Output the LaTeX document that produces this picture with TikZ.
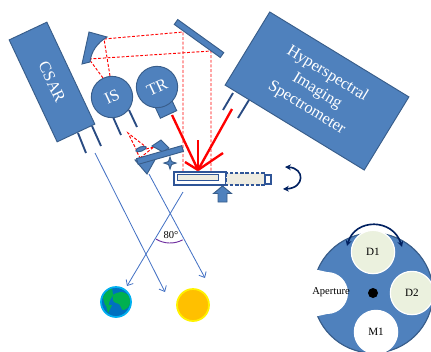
\documentclass[tikz,border=0pt]{standalone}
\usepackage{fontspec}
\setmainfont{Liberation Serif}
\usetikzlibrary{arrows.meta,shapes.geometric}

\definecolor{bluBox}{RGB}{79,129,189}
\definecolor{bluBordo}{RGB}{56,93,138}
\definecolor{bluGamba}{RGB}{41,75,130}
\definecolor{bluCampione}{RGB}{47,85,151}
\definecolor{bluRaggio}{RGB}{68,114,196}
\definecolor{bluScuro}{RGB}{0,32,96}
\definecolor{beige}{RGB}{238,236,225}
\definecolor{verdino}{RGB}{235,241,222}
\definecolor{viola}{RGB}{112,48,160}
\definecolor{oceano}{RGB}{0,112,192}
\definecolor{cielo}{RGB}{0,176,240}
\definecolor{terraVerde}{RGB}{0,176,80}
\definecolor{sole}{RGB}{255,192,0}

\begin{document}
\begin{tikzpicture}[x=0.03cm,y=-0.03cm]
\tikzstyle{blocco} = [draw=bluBordo, fill=bluBox, line width=0.8pt, inner sep=0, text=white, font=\fontsize{14}{17}\selectfont]
\tikzstyle{sonda} = [blocco, circle, minimum size=1.24cm, rotate=25]
\tikzstyle{specchio} = [blocco, rectangle, minimum height=0.18cm]
\tikzstyle{ottica} = [draw=bluBordo, fill=bluBox, line width=0.8pt]
\tikzstyle{gamba} = [bluGamba, line width=1.6pt]
\tikzstyle{fascio} = [red, line width=0.8pt, dash pattern=on 2.5pt off 1.5pt]
\tikzstyle{luce} = [red, line width=2pt]
\tikzstyle{raggio} = [bluRaggio, line width=0.7pt, -{Straight Barb[length=4pt,width=7pt]}]
\tikzstyle{rotazione} = [bluScuro, line width=1.4pt, {Stealth[length=5pt,width=5pt]}-{Stealth[length=5pt,width=5pt]}]
\tikzstyle{campione} = [draw=bluCampione, line width=1.1pt]
\tikzstyle{foro} = [circle, draw=white, line width=1pt, minimum size=1.3cm, inner sep=0, font=\fontsize{9.5}{11}\selectfont]

\clip (0,0) rectangle (431,351);

% Raggi verso terra e sole
\coordinate (csarRaggio) at (95,153);
\coordinate (fineCsar) at (165,292);
\coordinate (ottRaggio) at (149,174);
\coordinate (fineSole) at (205,278);
\coordinate (campRaggio) at (183,192);
\coordinate (fineTerra) at (127,286);
\draw[raggio] (csarRaggio) -- (fineCsar);
\draw[raggio] (ottRaggio) -- (fineSole);
\draw[raggio] (campRaggio) -- (fineTerra);

% angolo tra i raggi
\draw[viola, line width=0.8pt] (170,216) ++(121:27) arc[start angle=121, end angle=62, radius=27];
\node[font=\fontsize{9}{10}\selectfont] (angolo) at (171,235) {80°};

% Gambe degli strumenti
\foreach \xa/\ya/\xb/\yb in {78/133/86/153, 92/126/101/146, 113/117/121/135,
                            129/110/137/127, 233/93/223/110, 249/100/238/118}
  \draw[gamba] (\xa,\ya) -- (\xb,\yb);

% Percorso ottico (tratteggiato)
\coordinate (cs1) at (104,39);
\coordinate (cs2) at (89,59);
\coordinate (sp1) at (183,32);
\coordinate (sp2) at (211,51);
\coordinate (cp1) at (183,172);
\coordinate (cp2) at (211,172);
\draw[fascio] (110,76) -- (cs1) -- (sp1) -- (cp1);
\draw[fascio] (103,78) -- (cs2) -- (sp2) -- (cp2);

% Specchi
\draw[ottica] (89,32) -- (107,37) .. controls (97,43) and (91,52) .. (90,62) -- (82,64) -- cycle;
\node[specchio, minimum width=1.7cm, rotate=-35.7] (piano) at (199,38.5) {};

% Strumenti
\node[blocco, rectangle, minimum width=3.38cm, minimum height=1.25cm, rotate=-64.8] (csar) at (52,82) {CSAR};
\node[blocco, rectangle, minimum width=4.89cm, minimum height=2.57cm, rotate=-31.4, align=center] (his) at (317,91) {Hyperspectral\\Imaging\\Spectrometer};
\node[blocco, rectangle, minimum width=0.54cm, minimum height=0.36cm, rotate=25] (trtab) at (166,109) {};
\node[sonda] (is) at (112,97) {IS};
\node[sonda] (tr) at (157,87) {TR};

% Illuminazione (rosso pieno)
\coordinate (fuoco) at (198,170);
\foreach \x/\y in {172/115, 232/109, 198/140, 185/162, 223/153}
  \draw[luce] (\x,\y) -- (fuoco);

% Gruppo ottico piccolo
\draw[fascio] (137,151) -- (128,133) -- (146,147);
\draw[fascio] (137,152) -- (140,158) -- (168,152);
\draw[fascio] (146,149) -- (154,147);
\draw[fascio] (140,158) -- (155,146);
\draw[fascio] (153,156) -- (165,149);
\node[blocco, ellipse, minimum width=0.33cm, minimum height=0.13cm, rotate=20] (lente) at (141,149) {};
\draw[ottica] (152,146) -- (161,140) -- (169,148) -- (163,152) -- cycle;
\draw[ottica] (135,160) -- (156,158) -- (147,174) -- cycle;
\node[specchio, minimum width=1.41cm, rotate=16] (barra) at (160,155) {};
\draw[ottica] (170,157) -- (171.5,161.5) -- (176,163) -- (171.5,164.5) -- (170,169)
  -- (168.5,164.5) -- (164,163) -- (168.5,161.5) -- cycle;

% Portacampione
\draw[campione, fill=white] (174,172) rectangle (226,185);
\draw[campione, fill=beige, line width=0.8pt] (177,174) rectangle (218,180);
\draw[campione, fill=beige, dash pattern=on 3pt off 1.5pt] (226,173) rectangle (265,185);
\draw[campione, fill=white] (265,175) rectangle (271,184);
\draw[ottica] (222.5,186) -- (231.5,193.5) -- (227,193.5) -- (227,202) -- (218,202)
  -- (218,193.5) -- (213.5,193.5) -- cycle;
\draw[rotazione] (285,167) .. controls (305,168) and (305,188) .. (283,189);

% Terra
\node[circle, fill=oceano, draw=cielo, line width=1.5pt, minimum size=0.9cm, inner sep=0] (terra) at (116,302) {};
\begin{scope}
  \clip (116,302) circle (14);
  \fill[terraVerde] (105,290) -- (112,288) -- (113,295) -- (110,300) -- (108,307) -- (105,305) -- (103,298) -- cycle;
  \fill[terraVerde] (106,305) -- (112,305) -- (108,313) -- cycle;
  \fill[terraVerde] plot[smooth cycle] coordinates {(113,295) (122,292) (130,297) (129,306) (123,310) (119,304) (114,302)};
\end{scope}

% Sole
\node[circle, fill=sole, draw=yellow, line width=1.5pt, minimum size=0.96cm, inner sep=0] (sole) at (193,305) {};

% Ruota dei filtri
\filldraw[fill=bluBox, draw=bluBordo, line width=1pt] (373,293) circle (60);
\fill[white] (300,266) -- (327,272) arc[start angle=-90, end angle=90, radius=21] -- (300,320) -- cycle;
\fill[black] (373,293) circle (5);
\node[foro, fill=verdino] (d1) at (373,252) {D1};
\node[foro, fill=verdino] (d2) at (412,293) {D2};
\node[foro, fill=white] (m1) at (376,332) {M1};
\node[font=\fontsize{9}{10}\selectfont] (apertura) at (331,292) {Aperture};
\draw[rotazione] (347,246) .. controls (355,218) and (393,218) .. (402,247);

\end{tikzpicture}
\end{document}
